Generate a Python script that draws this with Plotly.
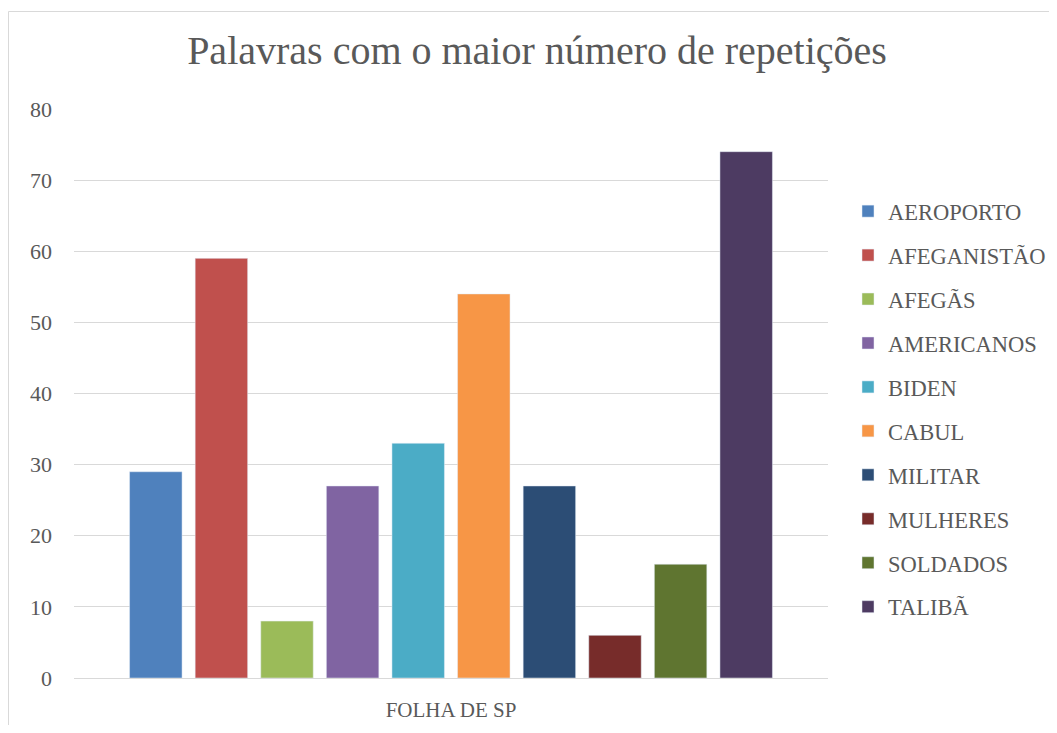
import plotly.graph_objects as go

category = ["FOLHA DE SP"]
words = ["AEROPORTO", "AFEGANISTÃO", "AFEGÃS", "AMERICANOS", "BIDEN",
         "CABUL", "MILITAR", "MULHERES", "SOLDADOS", "TALIBÃ"]
counts = [29, 59, 8, 27, 33, 54, 27, 6, 16, 74]
colors = ["#4F81BD", "#C0504D", "#9BBB59", "#8064A2", "#4BACC6",
          "#F79646", "#2C4D75", "#772C2A", "#5F7530", "#4D3B62"]
y_ticks = [0, 10, 20, 30, 40, 50, 60, 70, 80]

OFF = 8  # page body margin
W, H = 1057 - 2 * OFF, 733 - 2 * OFF
L, R, T, B = 74 - OFF, 828 - OFF, 109 - OFF, 678 - OFF
FONT = "Liberation Serif"
TXT = "#595959"

fig = go.Figure()
for i, (w, c, col) in enumerate(zip(words, counts, colors)):
    fig.add_trace(go.Bar(x=category, y=[c], name=w, marker_color=col,
                         legendgroup=f"g{i}"))

def px2paper_x(px):
    return (px - OFF - L) / (R - L)

def px2paper_y(py):
    return (B - (py - OFF)) / (B - T)

fig.update_layout(
    width=W, height=H,
    margin=dict(l=L, r=W - R, t=T, b=H - B, autoexpand=False),
    paper_bgcolor="white", plot_bgcolor="white",
    barmode="group", bargap=0.13, bargroupgap=0.2,
    font=dict(family=FONT, color=TXT),
    title=dict(text="Palavras com o maior número de repetições",
               font=dict(family=FONT, size=40, color=TXT),
               x=(537 - OFF) / W, xanchor="center",
               y=1 - (50 - OFF) / H, yanchor="middle"),
    legend=dict(font=dict(family=FONT, size=22.5, color=TXT),
                x=px2paper_x(848), xanchor="left",
                y=px2paper_y(409), yanchor="middle",
                tracegroupgap=11.7, bgcolor="rgba(0,0,0,0)"),
    showlegend=True,
)
fig.update_xaxes(showgrid=False, showline=True, linecolor="#D9D9D9", linewidth=1,
                 ticks="", tickfont=dict(family=FONT, size=21, color=TXT),
                 ticklabelstandoff=13, fixedrange=True)
fig.update_yaxes(range=[0, 80], tickvals=y_ticks, showgrid=True,
                 gridcolor="#D9D9D9", gridwidth=1, zeroline=False,
                 showline=False, ticks="",
                 tickfont=dict(family=FONT, size=22, color=TXT),
                 ticklabelstandoff=21, fixedrange=True)

fig.add_shape(type="rect", xref="paper", yref="paper",
              x0=px2paper_x(8.5), x1=px2paper_x(1080),
              y0=px2paper_y(780), y1=px2paper_y(11.5),
              line=dict(color="#D9D9D9", width=1), layer="below")

fig.write_html("out.html")
